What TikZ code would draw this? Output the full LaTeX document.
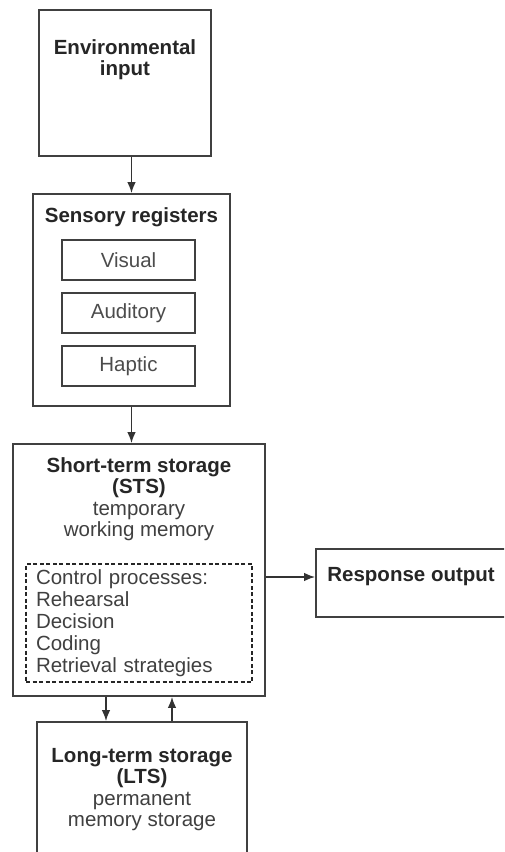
\documentclass[tikz,border=0pt]{standalone}
\usepackage{fontspec}
\setmainfont{Liberation Sans}
\usepackage{tikz}
\usetikzlibrary{arrows.meta}
\usetikzlibrary{positioning}
\tikzset{basic/.style={draw=black!75,line width=1.7pt,fill=white,inner sep=0pt}}
\tikzset{stage/.style={basic,rectangle}}
\def\txtsize{\fontsize{20.5}{21.5}\selectfont}

\begin{document}
\begin{tikzpicture}[x=1pt,y=-1pt]
    \tikzstyle{flow}=[-{Latex[length=11pt,width=8.5pt]},draw=black!80,line width=1.6pt]
    \tikzstyle{head}=[font=\txtsize,text=black!85,align=center,inner sep=0pt,anchor=north]
    \tikzstyle{subbox}=[stage,minimum width=133pt,minimum height=40pt,font=\txtsize,text=black!70]
    \tikzstyle{ctrl}=[draw=black!85,line width=1.4pt,dash pattern=on 4pt off 2.5pt,
                      text width=206pt,inner xsep=10pt,inner ysep=0pt,minimum height=118pt,
                      align=left,font=\fontsize{20.5}{22}\selectfont,text=black!75]

    \useasboundingbox (0,0) rectangle (504,852);
    \clip (0,0) rectangle (504,852);

    % Draw the stage boxes
    \node[stage,minimum width=172pt,minimum height=146pt] (env) at (125,83) {};
    \node[stage,minimum width=197pt,minimum height=212pt] (sens) at (131.5,300) {};
    \node[stage,minimum width=252pt,minimum height=252pt] (sts) at (139,570) {};
    \node[stage,minimum width=204pt,minimum height=68pt] (resp) at (418,583) {};
    \node[stage,minimum width=210pt,minimum height=150pt] (lts) at (142,797) {};

    % Titles of the boxes
    \node[head,below=30pt of env.north] (env-t) {\bfseries Environmental\\\bfseries input};
    \node[head,below=14pt of sens.north] (sens-t) {\bfseries Sensory registers};
    \node[head,below=14pt of sts.north] (sts-t)
        {\bfseries Short-term storage\\\bfseries (STS)\\\textcolor{black!75}{temporary}\\\textcolor{black!75}{working memory}};
    \node[head,anchor=north west] (resp-t) at ([xshift=12pt,yshift=-19pt]resp.north west)
        {\bfseries Response output};
    \node[head,below=27pt of lts.north] (lts-t)
        {\bfseries Long-term storage\\\bfseries (LTS)\\\textcolor{black!75}{permanent}\\\textcolor{black!75}{memory storage}};

    % Draw the sensory registers
    \foreach \name / \y in {Visual/260,Auditory/313,Haptic/366}
        \node[subbox] (S-\name) at (128.5,\y) {\name};

    % Control processes inside the STS
    \node[ctrl] (ctrl) at (139,623)
        {Control processes:\\Rehearsal\\Decision\\Coding\\Retrieval strategies};

    % Connect the stages
    \draw[flow] (env.south -| sens.north) -- (sens.north);
    \draw[flow] (sens.south) -- (sens.south |- sts.north);
    \coordinate (sts-out) at ([yshift=-7pt]sts.east);
    \draw[flow] (sts-out) -- (sts-out -| resp.west);
    \draw[flow] ([xshift=-33pt]sts.south) -- ([xshift=-33pt]sts.south |- lts.north);
    \draw[flow] ([xshift=33pt]sts.south |- lts.north) -- ([xshift=33pt]sts.south);
\end{tikzpicture}
\end{document}
